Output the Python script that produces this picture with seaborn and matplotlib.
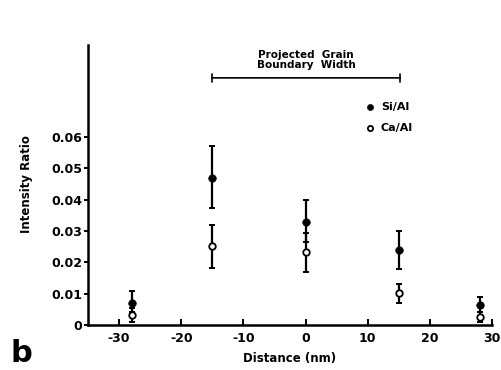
import matplotlib
matplotlib.use("Agg")
import matplotlib.pyplot as plt
import seaborn as sns
import pandas as pd

# data
distance = [-28, -15, 0, 15, 28]
si_al = [0.0071, 0.047, 0.033, 0.024, 0.0063]
si_lo = [0.0040, 0.0375, 0.0265, 0.0178, 0.0040]
si_hi = [0.0110, 0.0570, 0.0400, 0.0300, 0.0090]
ca_al = [0.0032, 0.0253, 0.0232, 0.0101, 0.0026]
ca_lo = [0.0010, 0.0183, 0.0170, 0.0070, 0.0010]
ca_hi = [0.0055, 0.0320, 0.0294, 0.0130, 0.0040]
gb_left, gb_right, gb_level = -15.5, 15.7, 0.0789
yticks = [0, 0.01, 0.02, 0.03, 0.04, 0.05, 0.06]
ytick_labels = ["0", "0.01", "0.02", "0.03", "0.04", "0.05", "0.06"]
xticks = [-30, -20, -10, 0, 10, 20, 30]
xtick_labels = ["-30", "-20", "-10", "0", "10", "20", "30"]

df = pd.DataFrame({"x": distance, "si": si_al, "ca": ca_al})

sns.set_style("ticks")
plt.rcParams["font.family"] = ["DejaVu Sans"]
plt.rcParams["font.weight"] = "bold"
for k in ["text.color", "axes.labelcolor", "axes.edgecolor", "xtick.color", "ytick.color"]:
    plt.rcParams[k] = "black"

fig = plt.figure(figsize=(5.02, 3.70), dpi=100)
ax = fig.add_axes([0.1753, 0.1216, 0.8047, 0.7568])

# error bars
ax.errorbar(distance, si_al,
            yerr=[[m - l for m, l in zip(si_al, si_lo)], [h - m for m, h in zip(si_al, si_hi)]],
            fmt="none", ecolor="black", elinewidth=1.6, capsize=2.5, capthick=1.4, zorder=2)
ax.errorbar(distance, ca_al,
            yerr=[[m - l for m, l in zip(ca_al, ca_lo)], [h - m for m, h in zip(ca_al, ca_hi)]],
            fmt="none", ecolor="black", elinewidth=1.6, capsize=2.5, capthick=1.4, zorder=2)

sns.scatterplot(data=df, x="x", y="si", ax=ax, color="black", edgecolor="black",
                s=30, marker="o", zorder=3, label="Si/Al")
sns.scatterplot(data=df, x="x", y="ca", ax=ax, color="white", edgecolor="black",
                linewidth=1.3, s=22, marker="o", zorder=3, label="Ca/Al")

ax.set_xlim(-35, 30)
ax.set_ylim(0, 0.0894)
ax.set_yticks(yticks)
ax.set_yticklabels(ytick_labels, fontsize=9, fontweight="bold")
ax.set_xticks(xticks)
ax.set_xticklabels(xtick_labels, fontsize=9, fontweight="bold")
ax.tick_params(axis="x", direction="in", length=4, width=1.4, pad=5)
ax.tick_params(axis="y", direction="out", length=3, width=1.4, pad=1)
for s in ["top", "right"]:
    ax.spines[s].set_visible(False)
for s in ["left", "bottom"]:
    ax.spines[s].set_linewidth(1.8)

ax.set_xlabel("Distance (nm)", fontsize=8.5, fontweight="bold", labelpad=5)
ax.set_ylabel("Intensity Ratio", fontsize=8.5, fontweight="bold")
ax.yaxis.set_label_coords(-0.135, 0.502)

# projected grain boundary width bracket
ax.annotate("", xy=(gb_left, gb_level), xytext=(gb_right, gb_level),
            arrowprops=dict(arrowstyle="|-|", mutation_scale=3, lw=1.2, color="black"))
ax.text((gb_left + gb_right) / 2, gb_level + 0.0025, "Projected  Grain\nBoundary  Width",
        ha="center", va="bottom", fontsize=7.5, fontweight="bold", linespacing=1.0)

leg = ax.legend(loc="upper left", bbox_to_anchor=(0.67, 0.815), frameon=False,
                fontsize=8, handletextpad=0.5, labelspacing=0.95, borderpad=0,
                handlelength=1, markerscale=0.8)
for t in leg.get_texts():
    t.set_fontweight("bold")

fig.text(0.02, 0.005, "b", fontsize=22, fontweight="bold", va="bottom", ha="left")

fig.savefig("out.png", dpi=100)
